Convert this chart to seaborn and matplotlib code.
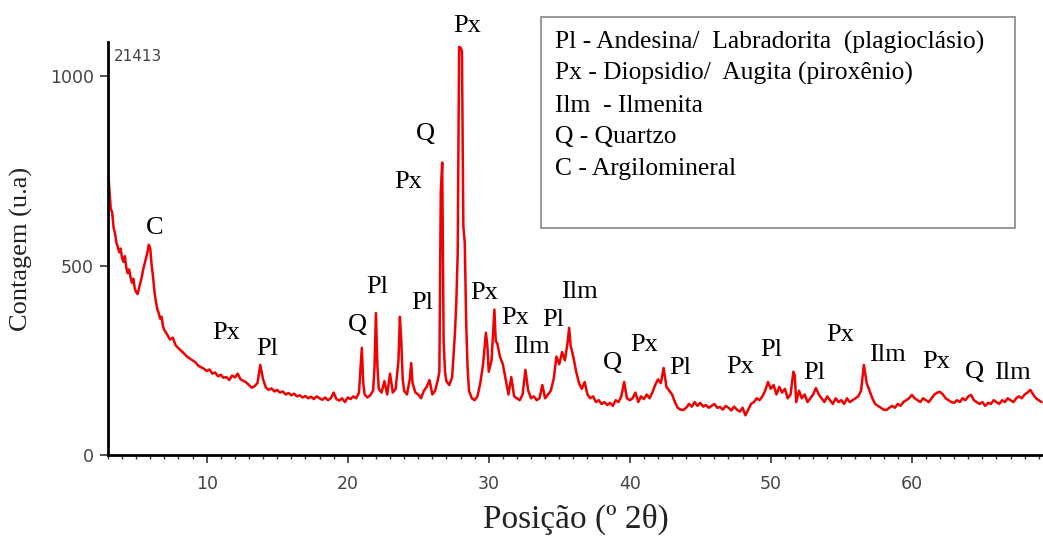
import matplotlib
matplotlib.use("Agg")
import matplotlib.pyplot as plt
import seaborn as sns
import pandas as pd
from matplotlib.patches import Rectangle
from matplotlib.ticker import MultipleLocator

# ---------------- data ----------------
two_theta = [
    3.0, 3.1, 3.2, 3.3, 3.4, 3.5, 3.6, 3.7, 3.8, 3.9, 4.0, 4.1, 4.2, 4.3, 4.4, 4.5, 4.6, 4.7, 4.8, 4.9,
    5.0, 5.1, 5.2, 5.3, 5.4, 5.5, 5.6, 5.7, 5.8, 5.9, 6.0, 6.1, 6.2, 6.3, 6.4, 6.5, 6.6, 6.7, 6.8, 6.9,
    7.0, 7.2, 7.4, 7.6, 7.8, 8.0, 8.2, 8.4, 8.6, 8.8, 9.0, 9.2, 9.4, 9.6, 9.8,
    10.0, 10.2, 10.4, 10.6, 10.8, 11.0, 11.2, 11.4, 11.6, 11.8, 12.0, 12.2, 12.4, 12.6, 12.8,
    13.0, 13.2, 13.4, 13.6, 13.8, 14.0, 14.2, 14.4, 14.6, 14.8, 15.0, 15.2, 15.4, 15.6, 15.8,
    16.0, 16.2, 16.4, 16.6, 16.8, 17.0, 17.2, 17.4, 17.6, 17.8, 18.0, 18.2, 18.4, 18.6, 18.8,
    19.0, 19.2, 19.4, 19.6, 19.8, 20.0, 20.2, 20.4, 20.6, 20.8, 21.0, 21.1, 21.2, 21.4, 21.6,
    21.8, 21.9, 22.0, 22.1, 22.2, 22.4, 22.6, 22.8, 23.0, 23.2, 23.4, 23.6, 23.7, 23.8, 23.9,
    24.0, 24.2, 24.4, 24.5, 24.6, 24.8, 25.0, 25.2, 25.4, 25.6, 25.8, 26.0, 26.2, 26.4, 26.5,
    26.6, 26.7, 26.8, 26.9, 27.0, 27.2, 27.4, 27.5, 27.6, 27.7, 27.8, 27.9, 28.0, 28.1, 28.2,
    28.3, 28.4, 28.5, 28.6, 28.8, 29.0, 29.2, 29.4, 29.6, 29.8, 29.9, 30.0, 30.2, 30.4, 30.5,
    30.6, 30.8, 31.0, 31.2, 31.4, 31.6, 31.8, 32.0, 32.2, 32.4, 32.6, 32.8, 33.0, 33.2, 33.4,
    33.6, 33.8, 34.0, 34.2, 34.4, 34.6, 34.8, 35.0, 35.2, 35.4, 35.6, 35.7, 35.8, 36.0, 36.2,
    36.4, 36.6, 36.8, 37.0, 37.2, 37.4, 37.6, 37.8, 38.0, 38.2, 38.4, 38.6, 38.8, 39.0, 39.2,
    39.4, 39.6, 39.8, 40.0, 40.2, 40.4, 40.6, 40.8, 41.0, 41.2, 41.4, 41.6, 41.8, 42.0, 42.2,
    42.4, 42.6, 42.8, 43.0, 43.2, 43.4, 43.6, 43.8, 44.0, 44.2, 44.4, 44.6, 44.8, 45.0, 45.2,
    45.4, 45.6, 45.8, 46.0, 46.2, 46.4, 46.6, 46.8, 47.0, 47.2, 47.4, 47.6, 47.8, 48.0, 48.2,
    48.4, 48.6, 48.8, 49.0, 49.2, 49.4, 49.6, 49.8, 50.0, 50.2, 50.4, 50.6, 50.8, 51.0, 51.2,
    51.4, 51.6, 51.7, 51.8, 52.0, 52.2, 52.4, 52.6, 52.8, 53.0, 53.2, 53.4, 53.6, 53.8, 54.0,
    54.2, 54.4, 54.6, 54.8, 55.0, 55.2, 55.4, 55.6, 55.8, 56.0, 56.2, 56.4, 56.6, 56.8, 57.0,
    57.2, 57.4, 57.6, 57.8, 58.0, 58.2, 58.4, 58.6, 58.8, 59.0, 59.2, 59.4, 59.6, 59.8, 60.0,
    60.2, 60.4, 60.6, 60.8, 61.0, 61.2, 61.4, 61.6, 61.8, 62.0, 62.2, 62.4, 62.6, 62.8, 63.0,
    63.2, 63.4, 63.6, 63.8, 64.0, 64.2, 64.4, 64.6, 64.8, 65.0, 65.2, 65.4, 65.6, 65.8, 66.0,
    66.2, 66.4, 66.6, 66.8, 67.0, 67.2, 67.4, 67.6, 67.8, 68.0, 68.2, 68.4, 68.6, 68.8, 69.0,
    69.2,
]
counts = [
    762, 700, 650, 640, 600, 585, 560, 550, 535, 545, 520, 510, 525, 495, 480, 490, 470, 455, 465, 440,
    430, 425, 440, 455, 470, 490, 505, 520, 535, 555, 545, 500, 470, 430, 405, 385, 375, 360, 365, 340,
    330, 318, 305, 310, 290, 282, 275, 268, 260, 255, 250, 245, 236, 232, 228,
    222, 226, 215, 218, 208, 212, 204, 206, 198, 210, 205, 215, 200, 196, 192,
    185, 178, 182, 190, 238, 200, 178, 172, 176, 168, 172, 165, 168, 160, 164,
    158, 162, 155, 158, 152, 156, 150, 154, 148, 155, 150, 146, 152, 145, 150,
    165, 148, 144, 150, 140, 152, 148, 155, 150, 165, 283, 190, 160, 152, 158,
    170, 230, 375, 240, 175, 165, 195, 160, 215, 165, 175, 250, 365, 300, 200,
    170, 160, 200, 243, 190, 165, 160, 150, 170, 180, 198, 160, 170, 200, 220,
    696, 772, 300, 220, 195, 185, 205, 260, 320, 402, 534, 1077, 1075, 1066, 603,
    560, 350, 230, 170, 150, 145, 155, 190, 240, 323, 290, 220, 250, 384, 300,
    296, 259, 240, 200, 160, 206, 155, 150, 145, 160, 225, 170, 150, 155, 145,
    150, 185, 150, 160, 170, 200, 260, 240, 272, 250, 300, 336, 290, 259, 220,
    190, 175, 193, 160, 150, 155, 140, 145, 135, 140, 132, 138, 130, 145, 140,
    155, 193, 150, 145, 150, 165, 140, 155, 148, 160, 150, 165, 185, 200, 190,
    230, 180, 170, 160, 140, 125, 120, 119, 125, 135, 128, 140, 130, 138, 128,
    132, 125, 130, 135, 125, 127, 120, 130, 125, 118, 128, 120, 115, 125, 105,
    120, 135, 140, 150, 145, 155, 170, 193, 175, 185, 160, 180, 165, 175, 150,
    160, 220, 210, 140, 170, 150, 160, 140, 150, 160, 177, 160, 150, 140, 155,
    145, 135, 150, 140, 145, 135, 150, 140, 145, 150, 155, 170, 238, 190, 170,
    150, 135, 130, 125, 120, 119, 125, 130, 125, 135, 130, 140, 145, 150, 159,
    150, 145, 140, 150, 145, 140, 150, 160, 165, 167, 160, 150, 145, 140, 138,
    145, 140, 150, 145, 155, 159, 145, 140, 135, 140, 130, 138, 135, 145, 140,
    135, 145, 140, 150, 145, 140, 150, 155, 150, 160, 165, 172, 160, 150, 145,
    140,
]

peak_labels = ["C", "Px", "Pl", "Q", "Pl", "Pl", "Px", "Q", "Px", "Px", "Px", "Ilm", "Pl",
               "Ilm", "Q", "Px", "Pl", "Px", "Pl", "Pl", "Px", "Ilm", "Px", "Q", "Ilm"]
label_x = [6.3, 11.35, 14.3, 20.7, 22.1, 25.3, 24.3, 25.5, 28.45, 29.7, 31.85, 33.05, 34.55,
           36.45, 38.8, 41.05, 43.55, 47.8, 50.0, 53.1, 54.9, 58.3, 61.75, 64.45, 67.15]
label_y = [600, 323, 280, 344, 444, 402, 720, 847, 1132, 429, 362, 286, 357,
           431, 243, 291, 230, 233, 278, 217, 317, 265, 246, 220, 217]

legend_lines = [
    "Pl - Andesina/  Labradorita  (plagioclásio)",
    "Px - Diopsidio/  Augita (piroxênio)",
    "Ilm  - Ilmenita",
    "Q - Quartzo",
    "C - Argilomineral",
]

y_ticks = [0, 500, 1000]
x_ticks = [10, 20, 30, 40, 50, 60]

# ---------------- figure ----------------
sns.set_theme(style="white")
plt.rcParams["font.family"] = ["DejaVu Sans"]
serif = "Liberation Serif"

fig = plt.figure(figsize=(10.43, 5.38), dpi=100)
ax = fig.add_axes([0.1035, 0.154, 0.8965, 0.768])

df = pd.DataFrame({"two_theta": two_theta, "counts": counts})
sns.lineplot(data=df, x="two_theta", y="counts", ax=ax, color="#f00000",
             linewidth=1.8, estimator=None, sort=False)

ax.set_xlim(3, 69.3)
ax.set_ylim(0, 1090)
ax.set_yticks(y_ticks)
ax.set_xticks(x_ticks)
ax.xaxis.set_minor_locator(MultipleLocator(1))

sns.despine(ax=ax, top=True, right=True)
for side in ("left", "bottom"):
    ax.spines[side].set_color("black")
    ax.spines[side].set_linewidth(2.0)

ax.tick_params(axis="both", which="major", direction="out", length=6, width=1.2,
               color="#333333", labelsize=12.5, labelcolor="#444444", pad=4,
               bottom=True, left=True)
ax.tick_params(axis="x", which="minor", direction="out", length=3, width=1.0,
               color="#333333", bottom=True)
ax.tick_params(axis="x", which="major", pad=8)

ax.set_xlabel("Posição (º 2θ)", family=serif, fontsize=24, color="#222222", labelpad=8)
ax.set_ylabel("Contagem (u.a)", family=serif, fontsize=19, color="#222222", labelpad=12)

ax.text(0.006, 0.965, "21413", transform=ax.transAxes, fontsize=11, color="#444444",
        ha="left", va="center")

for lab, lx, ly in zip(peak_labels, label_x, label_y):
    ax.text(lx, ly, lab, family=serif, fontsize=19, color="black",
            ha="center", va="center", clip_on=False)

# legend-like box
box = Rectangle((541 / 1043, 1 - 228 / 538), (1015 - 541) / 1043, (228 - 17) / 538,
                transform=fig.transFigure, facecolor="white", edgecolor="#888888",
                linewidth=1.2, zorder=5)
fig.patches.append(box)
for i, line in enumerate(legend_lines):
    fig.text(555 / 1043, 1 - (42 + i * 31.8) / 538, line, family=serif, fontsize=18.4,
             color="black", ha="left", va="center", zorder=6)

fig.savefig("out.png", dpi=100, facecolor="white")
